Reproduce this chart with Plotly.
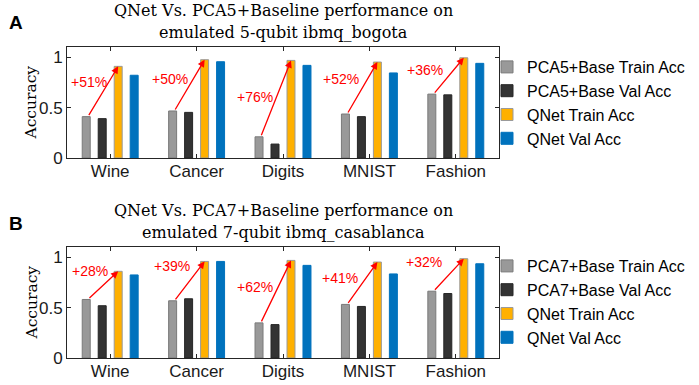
import plotly.graph_objects as go

# ---------------- data ----------------
categories = ["Wine", "Cancer", "Digits", "MNIST", "Fashion"]

# Panel A: PCA5 + baseline vs QNet on emulated 5-qubit ibmq_bogota
a_base_train = [0.41, 0.466, 0.21, 0.436, 0.633]
a_base_val = [0.39, 0.452, 0.138, 0.41, 0.626]
a_qnet_train = [0.908, 0.974, 0.967, 0.951, 0.993]
a_qnet_val = [0.82, 0.954, 0.918, 0.843, 0.938]
a_gain_labels = ["+51%", "+50%", "+76%", "+52%", "+36%"]

# Panel B: PCA7 + baseline vs QNet on emulated 7-qubit ibmq_casablanca
b_base_train = [0.58, 0.567, 0.348, 0.531, 0.662]
b_base_val = [0.518, 0.587, 0.331, 0.511, 0.639]
b_qnet_train = [0.859, 0.957, 0.967, 0.951, 0.984]
b_qnet_val = [0.823, 0.957, 0.918, 0.833, 0.934]
b_gain_labels = ["+28%", "+39%", "+62%", "+41%", "+32%"]

y_ticks = [0, 0.5, 1]
y_tick_text = ["0", "0.5", "1"]

# ---------------- styling / layout config ----------------
W, H = 699, 385
COL_GRAY = "#999999"
COL_DARK = "#333333"
COL_ORANGE = "#FFB000"
COL_BLUE = "#0072BD"
BARGAP = 0.26
BARGROUPGAP = 0.5
N_TRACES = 4
SLOT = (1 - BARGAP) / N_TRACES

# label placement (offset from category centre in category units, y in data units)
a_label_dx = [-0.24, -0.31, -0.32, -0.33, -0.36]
a_label_y = [0.75, 0.78, 0.60, 0.78, 0.87]
b_label_dx = [-0.23, -0.29, -0.32, -0.34, -0.37]
b_label_y = [0.86, 0.91, 0.70, 0.79, 0.95]

plot_x0, plot_x1 = 67, 499
panels = [
    dict(top=47, bottom=158, xa="x", ya="y", legend="legend",
         data=(a_base_train, a_base_val, a_qnet_train, a_qnet_val),
         names=("PCA5+Base Train Acc", "PCA5+Base Val Acc"),
         gains=a_gain_labels, ldx=a_label_dx, ly=a_label_y,
         title=("QNet Vs. PCA5+Baseline performance on", "emulated 5-qubit ibmq_bogota"),
         title_y=(10, 32), letter="A", letter_y=22, legend_y=103),
    dict(top=247, bottom=358, xa="x2", ya="y2", legend="legend2",
         data=(b_base_train, b_base_val, b_qnet_train, b_qnet_val),
         names=("PCA7+Base Train Acc", "PCA7+Base Val Acc"),
         gains=b_gain_labels, ldx=b_label_dx, ly=b_label_y,
         title=("QNet Vs. PCA7+Baseline performance on", "emulated 7-qubit ibmq_casablanca"),
         title_y=(211, 232), letter="B", letter_y=223, legend_y=302),
]

fig = go.Figure()
annotations = []
xidx = list(range(len(categories)))

for p in panels:
    bt, bv, qt, qv = p["data"]
    specs = [
        (bt, p["names"][0], COL_GRAY, "#7a7a7a"),
        (bv, p["names"][1], COL_DARK, "#262626"),
        (qt, "QNet Train Acc", COL_ORANGE, "#9a9a9a"),
        (qv, "QNet Val Acc", COL_BLUE, COL_BLUE),
    ]
    for vals, name, col, lcol in specs:
        fig.add_trace(go.Bar(
            x=xidx, y=vals, name=name, xaxis=p["xa"], yaxis=p["ya"],
            legend=p["legend"],
            marker=dict(color=col, line=dict(color=lcol, width=1)),
        ))
    # arrows from baseline train to QNet train
    for i in xidx:
        gx = i + (0 - 1.5) * SLOT
        ox = i + (2 - 1.5) * SLOT
        annotations.append(dict(
            x=ox, y=qt[i], ax=gx + 0.02, ay=bt[i],
            xref=p["xa"], yref=p["ya"], axref=p["xa"], ayref=p["ya"],
            text="", showarrow=True, arrowhead=2, arrowsize=1.1,
            arrowwidth=1.3, arrowcolor="#FF0000", standoff=0, startstandoff=0,
        ))
        annotations.append(dict(
            x=i + p["ldx"][i], y=p["ly"][i], xref=p["xa"], yref=p["ya"],
            text=p["gains"][i], showarrow=False,
            font=dict(family="Liberation Sans, Arial", size=14, color="#FF0000"),
        ))
    # titles
    cx = (plot_x0 + plot_x1) / 2 / W
    for line, ty in zip(p["title"], p["title_y"]):
        annotations.append(dict(
            x=cx, y=1 - ty / H, xref="paper", yref="paper", text=line,
            showarrow=False, xanchor="center", yanchor="middle",
            font=dict(family="DejaVu Serif", size=16, color="#000000"),
        ))
    # panel letter
    annotations.append(dict(
        x=7 / W, y=1 - p["letter_y"] / H, xref="paper", yref="paper",
        text="<b>" + p["letter"] + "</b>", showarrow=False,
        xanchor="left", yanchor="middle",
        font=dict(family="Liberation Sans, Arial", size=19, color="#000000"),
    ))
    # y-axis title
    annotations.append(dict(
        x=31 / W, y=1 - (p["top"] + p["bottom"]) / 2 / H, xref="paper", yref="paper",
        text="Accuracy", textangle=-90, showarrow=False,
        xanchor="center", yanchor="middle",
        font=dict(family="DejaVu Serif", size=15.5, color="#000000"),
    ))

axis_common = dict(
    showline=True, linecolor="#262626", linewidth=1, mirror="allticks",
    ticks="inside", ticklen=4, tickcolor="#262626", showgrid=False, zeroline=False,
    automargin=False,
    tickfont=dict(family="Liberation Sans, Arial", size=17, color="#1a1a1a"),
)

layout = dict(
    width=W, height=H, margin=dict(l=0, r=0, t=0, b=0, autoexpand=False),
    plot_bgcolor="white", paper_bgcolor="white",
    barmode="group", bargap=BARGAP, bargroupgap=BARGROUPGAP,
    annotations=annotations, showlegend=True,
)

for k, p in enumerate(panels):
    sfx = "" if k == 0 else "2"
    dom_y = [1 - p["bottom"] / H, 1 - p["top"] / H]
    layout["xaxis" + sfx] = dict(
        axis_common, domain=[plot_x0 / W, plot_x1 / W], range=[-0.5, 4.5],
        tickvals=xidx, ticktext=categories, anchor="y" + sfx,
        ticklabelstandoff=-2,
    )
    layout["yaxis" + sfx] = dict(
        axis_common, domain=dom_y, range=[0, 1.1], tickvals=y_ticks,
        ticktext=y_tick_text, anchor="x" + sfx,
    )
    layout[p["legend"]] = dict(
        x=487 / W, xanchor="left", y=1 - p["legend_y"] / H, yanchor="middle",
        bgcolor="rgba(0,0,0,0)", borderwidth=0, tracegroupgap=0,
        font=dict(family="Liberation Sans, Arial", size=16, color="#000000"),
        itemwidth=30,
    )

fig.update_layout(**layout)
fig.write_html(
    "out.html",
    config={"displayModeBar": False},
    post_script="document.body.style.margin='0';document.body.style.overflow='hidden';",
)
